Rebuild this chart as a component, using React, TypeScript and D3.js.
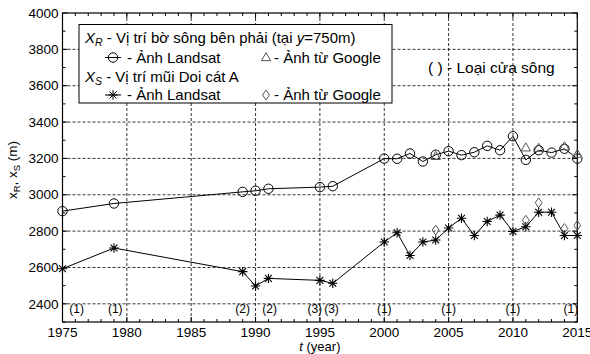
import * as d3 from 'd3';

// landsat survey years and positions (m)
const years = [1975, 1979, 1989, 1990, 1991, 1995, 1996, 2000, 2001, 2002, 2003, 2004, 2005, 2006, 2007, 2008, 2009, 2010, 2011, 2012, 2013, 2014, 2015];
const xrLandsat = [2910, 2952, 3016, 3022, 3033, 3042, 3047, 3199, 3198, 3227, 3183, 3220, 3240, 3218, 3234, 3269, 3245, 3322, 3192, 3245, 3232, 3253, 3199];
const xsLandsat = [2593, 2707, 2577, 2498, 2540, 2529, 2513, 2740, 2791, 2666, 2740, 2751, 2817, 2871, 2776, 2853, 2888, 2798, 2824, 2904, 2904, 2776, 2776];

// google earth images
const googleYears = [2004, 2011, 2012, 2014, 2015];
const xrGoogle = [3209, 3256, 3254, 3262, 3221];
const xsGoogle = [2806, 2860, 2956, 2815, 2831];

// estuary type labels along the bottom
const estuaryYears = [1976.1, 1979.1, 1989, 1991.1, 1994.6, 1995.9, 2000, 2005, 2010, 2014.5];
const estuaryTypes = ['(1)', '(1)', '(2)', '(2)', '(3)', '(3)', '(1)', '(1)', '(1)', '(1)'];

const xMajor = [1975, 1980, 1985, 1990, 1995, 2000, 2005, 2010, 2015];
const yMajor = [2400, 2600, 2800, 3000, 3200, 3400, 3600, 3800, 4000];

const W = 590, H = 354;
const margin = { top: 13, right: 12.7, bottom: 32, left: 62.5 };
const FONT = '"Liberation Sans", Arial, sans-serif';

const asterisk = {
  draw(ctx: any, size: number) {
    const r = Math.sqrt(size) / 2;
    const d = r * 0.72;
    ctx.moveTo(-r, 0); ctx.lineTo(r, 0);
    ctx.moveTo(0, -r); ctx.lineTo(0, r);
    ctx.moveTo(-d, -d); ctx.lineTo(d, d);
    ctx.moveTo(-d, d); ctx.lineTo(d, -d);
  },
};
const diamond = {
  draw(ctx: any, size: number) {
    const r = Math.sqrt(size) / 2;
    ctx.moveTo(0, -r * 1.2); ctx.lineTo(r * 0.85, 0); ctx.lineTo(0, r * 1.2); ctx.lineTo(-r * 0.85, 0); ctx.closePath();
  },
};

const starPath = d3.symbol(asterisk, 90)()!;
const triPath = d3.symbol(d3.symbolTriangle2, 62)()!;
const diaPath = d3.symbol(diamond, 66)()!;
const GREY = '#555';

export default function App() {
  const x = d3.scaleLinear().domain([1975, 2015]).range([margin.left, W - margin.right]);
  const y = d3.scaleLinear().domain([2300, 4000]).range([H - margin.bottom, margin.top]);
  const [x0, x1] = x.range();
  const [y0, y1] = y.range();

  const xMinor = d3.range(1975, 2016).filter(v => !xMajor.includes(v));
  const yMinor = d3.range(2300, 4001, 100).filter(v => !yMajor.includes(v));

  const line = d3.line<[number, number]>().x(d => x(d[0])).y(d => y(d[1]));
  const xr = years.map((t, i) => [t, xrLandsat[i]] as [number, number]);
  const xs = years.map((t, i) => [t, xsLandsat[i]] as [number, number]);

  return (
    <svg width={W} height={H} style={{ position: 'absolute', left: 0, top: 0, background: '#fff' }} fontFamily={FONT}>
      {/* grid */}
      <g stroke="#000" strokeWidth={0.8} strokeDasharray="3,2">
        {xMajor.slice(1, -1).map(v => <line key={'gx' + v} x1={x(v)} x2={x(v)} y1={y1} y2={y0} />)}
        {yMajor.slice(0, -1).map(v => <line key={'gy' + v} x1={x0} x2={x1} y1={y(v)} y2={y(v)} />)}
      </g>

      {/* ticks, all inward on four sides */}
      <g stroke="#000" strokeWidth={1}>
        {xMajor.map(v => <g key={'tx' + v}>
          <line x1={x(v)} x2={x(v)} y1={y0} y2={y0 - 5} />
          <line x1={x(v)} x2={x(v)} y1={y1} y2={y1 + 5} />
        </g>)}
        {xMinor.map(v => <g key={'mx' + v}>
          <line x1={x(v)} x2={x(v)} y1={y0} y2={y0 - 3} />
          <line x1={x(v)} x2={x(v)} y1={y1} y2={y1 + 3} />
        </g>)}
        {yMajor.map(v => <g key={'ty' + v}>
          <line x1={x0} x2={x0 + 5} y1={y(v)} y2={y(v)} />
          <line x1={x1} x2={x1 - 5} y1={y(v)} y2={y(v)} />
        </g>)}
        {yMinor.map(v => <g key={'my' + v}>
          <line x1={x0} x2={x0 + 3} y1={y(v)} y2={y(v)} />
          <line x1={x1} x2={x1 - 3} y1={y(v)} y2={y(v)} />
        </g>)}
      </g>
      <rect x={x0} y={y1} width={x1 - x0} height={y0 - y1} fill="none" stroke="#000" strokeWidth={1.2} />

      {/* tick labels */}
      <g fontSize={13.5} fill="#000">
        {xMajor.map(v => <text key={'lx' + v} x={x(v)} y={336.5} textAnchor="middle">{v}</text>)}
        {yMajor.map(v => <text key={'ly' + v} x={x0 - 4} y={y(v)} dy="0.35em" textAnchor="end">{v}</text>)}
      </g>

      {/* axis titles */}
      <text x={(x0 + x1) / 2} y={351} textAnchor="middle" fontSize={13}>
        <tspan fontStyle="italic">t</tspan> (year)
      </text>
      <text transform="translate(17,170) rotate(-90)" textAnchor="middle" fontSize={13.5}>
        x<tspan fontSize={9.5} dy={3}>R</tspan><tspan dy={-3}>, x</tspan><tspan fontSize={9.5} dy={3}>S</tspan><tspan dy={-3}> (m)</tspan>
      </text>

      {/* series */}
      <path d={line(xr)!} fill="none" stroke="#000" strokeWidth={1} />
      <path d={line(xs)!} fill="none" stroke="#000" strokeWidth={1} />
      {xr.map((d, i) => <circle key={'c' + i} cx={x(d[0])} cy={y(d[1])} r={4.7} fill="none" stroke="#000" strokeWidth={1} />)}
      {xs.map((d, i) => <path key={'s' + i} d={starPath} transform={`translate(${x(d[0])},${y(d[1])})`} fill="none" stroke="#000" strokeWidth={1.1} />)}
      {googleYears.map((t, i) => <path key={'g' + i} d={triPath} transform={`translate(${x(t)},${y(xrGoogle[i])})`} fill="none" stroke={GREY} strokeWidth={1} />)}
      {googleYears.map((t, i) => <path key={'d' + i} d={diaPath} transform={`translate(${x(t)},${y(xsGoogle[i])})`} fill="none" stroke={GREY} strokeWidth={1} />)}

      {/* estuary type labels */}
      <g fontSize={12} fill="#000" textAnchor="middle">
        {estuaryYears.map((t, i) => <text key={'e' + i} x={x(t)} y={313}>{estuaryTypes[i]}</text>)}
      </g>
      <text x={428} y={73} fontSize={15.5}>( ) - Loại cửa sông</text>

      {/* legend */}
      <g fontSize={15}>
        <rect x={79} y={24.5} width={313} height={78.5} fill="#fff" stroke="#000" strokeWidth={1} />
        <text x={85} y={43}>
          <tspan fontStyle="italic">X</tspan><tspan fontStyle="italic" fontSize={10.5} dy={3}>R</tspan>
          <tspan dy={-3}>{' - Vị trí bờ sông bên phải (tại '}</tspan><tspan fontStyle="italic">y</tspan>=750m)
        </text>
        <line x1={105} x2={121} y1={57.5} y2={57.5} stroke="#000" />
        <circle cx={113} cy={57.5} r={4.7} fill="none" stroke="#000" />
        <text x={127} y={62.5}>- Ảnh Landsat</text>
        <path d={triPath} transform="translate(266,58)" fill="none" stroke={GREY} />
        <text x={274} y={62.5}>- Ảnh từ Google</text>

        <text x={85} y={81.5}>
          <tspan fontStyle="italic">X</tspan><tspan fontStyle="italic" fontSize={10.5} dy={3}>S</tspan>
          <tspan dy={-3}>{' - Vị trí mũi Doi cát A'}</tspan>
        </text>
        <line x1={105} x2={121} y1={95} y2={95} stroke="#000" />
        <path d={starPath} transform="translate(113,95)" fill="none" stroke="#000" />
        <text x={127} y={100}>- Ảnh Landsat</text>
        <path d={diaPath} transform="translate(266,95)" fill="none" stroke={GREY} />
        <text x={274} y={100}>- Ảnh từ Google</text>
      </g>
    </svg>
  );
}
